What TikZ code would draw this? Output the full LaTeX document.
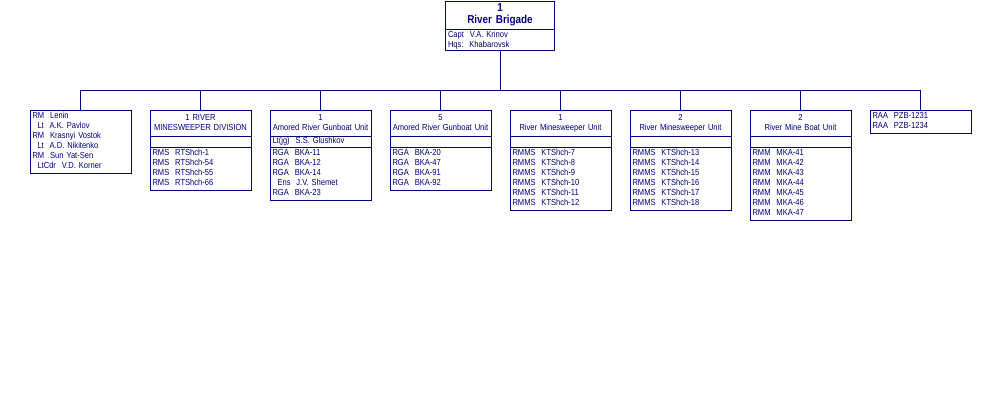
\documentclass[tikz,border=0pt]{standalone}
\usepackage{fontspec}
\setmainfont{Liberation Sans}[FakeStretch=0.86]
\usetikzlibrary{positioning}
\definecolor{navy}{RGB}{0,0,128}

\begin{document}
\begin{tikzpicture}[x=1pt, y=1pt,
    box/.style={draw=navy, line width=0.8pt, text=navy, outer sep=0pt, inner xsep=2.5pt, text width=96pt, font=\fontsize{8.8}{10}\selectfont, execute at begin node=\strut, execute at end node=\strut},
    head/.style={box, align=center, inner ysep=3pt, anchor=north},
    cmd/.style={box, align=left, inner ysep=0.5pt},
    list/.style={box, align=left, inner ysep=1.5pt},
    link/.style={draw=navy, line width=0.8pt}
]
\useasboundingbox (0,0) rectangle (1000,-400);

% brigade
\node[head, text width=104pt, font=\fontsize{11.5}{10.5}\selectfont\bfseries, inner ysep=2.5pt] (brig) at (500,-1) {1\\River Brigade};
\node[cmd, text width=104pt, below=0pt of brig] (brigcmd) {Capt~~V.A. Krinov\\Hqs:~~Khabarovsk};
\coordinate (bus) at (500,-90);

% units
\node[list, anchor=north] (rm) at (80.5,-110) {RM~~Lenin\\\hspace*{5pt}Lt~~A.K. Pavlov\\RM~~Krasnyi Vostok\\\hspace*{5pt}Lt~~A.D. Nikitenko\\RM~~Sun Yat-Sen\\\hspace*{5pt}LtCdr~~V.D. Korner};

\node[head] (div) at (200.5,-110) {1 RIVER\\MINESWEEPER DIVISION};
\node[cmd, below=0pt of div] (divcmd) {};
\node[list, below=0pt of divcmd] (divlist) {RMS~~RTShch-1\\RMS~~RTShch-54\\RMS~~RTShch-55\\RMS~~RTShch-66};

\node[head] (gbu1) at (320.5,-110) {1\\Amored River Gunboat Unit};
\node[cmd, below=0pt of gbu1] (gbu1cmd) {Lt(jg)~~S.S. Glushkov};
\node[list, below=0pt of gbu1cmd] (gbu1list) {RGA~~BKA-11\\RGA~~BKA-12\\RGA~~BKA-14\\\hspace*{5pt}Ens~~J.V. Shemet\\RGA~~BKA-23};

\node[head] (gbu5) at (440.5,-110) {5\\Amored River Gunboat Unit};
\node[cmd, below=0pt of gbu5] (gbu5cmd) {};
\node[list, below=0pt of gbu5cmd] (gbu5list) {RGA~~BKA-20\\RGA~~BKA-47\\RGA~~BKA-91\\RGA~~BKA-92};

\node[head] (msu1) at (560.5,-110) {1\\River Minesweeper Unit};
\node[cmd, below=0pt of msu1] (msu1cmd) {};
\node[list, below=0pt of msu1cmd] (msu1list) {RMMS~~KTShch-7\\RMMS~~KTShch-8\\RMMS~~KTShch-9\\RMMS~~KTShch-10\\RMMS~~KTShch-11\\RMMS~~KTShch-12};

\node[head] (msu2) at (680.5,-110) {2\\River Minesweeper Unit};
\node[cmd, below=0pt of msu2] (msu2cmd) {};
\node[list, below=0pt of msu2cmd] (msu2list) {RMMS~~KTShch-13\\RMMS~~KTShch-14\\RMMS~~KTShch-15\\RMMS~~KTShch-16\\RMMS~~KTShch-17\\RMMS~~KTShch-18};

\node[head] (mbu2) at (800.5,-110) {2\\River Mine Boat Unit};
\node[cmd, below=0pt of mbu2] (mbu2cmd) {};
\node[list, below=0pt of mbu2cmd] (mbu2list) {RMM~~MKA-41\\RMM~~MKA-42\\RMM~~MKA-43\\RMM~~MKA-44\\RMM~~MKA-45\\RMM~~MKA-46\\RMM~~MKA-47};

\node[list, anchor=north] (raa) at (920.5,-110) {RAA~~PZB-1231\\RAA~~PZB-1234};

% tree lines
\draw[link] (brigcmd) -- (bus);
\foreach \n in {rm,div,gbu1,gbu5,msu1,msu2,mbu2,raa}
    \draw[link] (\n.north) |- (bus);
\end{tikzpicture}
\end{document}
